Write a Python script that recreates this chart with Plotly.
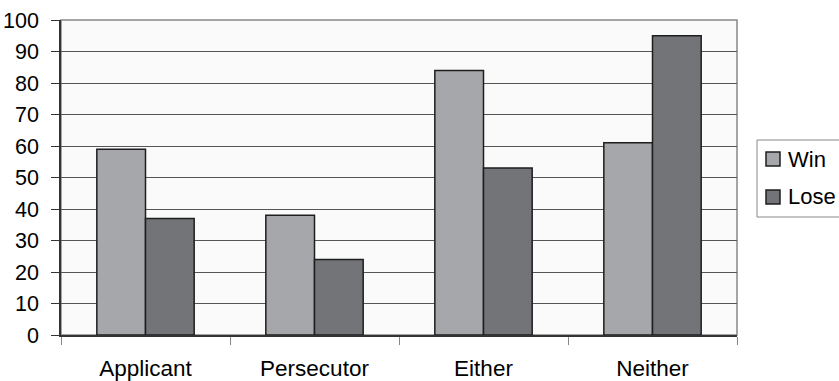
import plotly.graph_objects as go

categories = ["Applicant", "Persecutor", "Either", "Neither"]
win_values = [59, 38, 84, 61]
lose_values = [37, 24, 53, 95]
y_ticks = [0, 10, 20, 30, 40, 50, 60, 70, 80, 90, 100]
series_names = ["Win", "Lose"]
series_colors = ["#a6a7aa", "#737478"]
edge_color = "#1e1e1e"

fig = go.Figure()
for name, vals, col in zip(series_names, [win_values, lose_values], series_colors):
    fig.add_trace(go.Bar(name=name, x=categories, y=vals, showlegend=False,
                         marker=dict(color=col, line=dict(color=edge_color, width=1.5))))

# Manual legend (box clipped at the right edge as in the reference)
shapes = [dict(type="rect", xref="paper", yref="paper", x0=0, x1=1, y0=0, y1=1,
               line=dict(color="#888888", width=1.5), layer="below"),
          dict(type="rect", xref="paper", yref="paper", x0=1.0296, x1=1.16,
               y0=0.3746, y1=0.619, line=dict(color="#888888", width=1),
               fillcolor="white")]
annotations = []
legend_rows = [(0.5365, 0.581, 0.5587), (0.4159, 0.4603, 0.4381)]
for (y0, y1, yc), name, col in zip(legend_rows, series_names, series_colors):
    shapes.append(dict(type="rect", xref="paper", yref="paper", x0=1.0429, x1=1.0636,
                       y0=y0, y1=y1, fillcolor=col, line=dict(color=edge_color, width=1.5)))
    annotations.append(dict(xref="paper", yref="paper", x=1.0725, y=yc, text=name,
                            showarrow=False, xanchor="left", yanchor="middle",
                            font=dict(size=22)))

fig.update_layout(
    width=839, height=381,
    margin=dict(l=61, r=102, t=20, b=46, autoexpand=False),
    paper_bgcolor="white",
    plot_bgcolor="#fafafa",
    barmode="group",
    bargap=0.424,
    bargroupgap=0,
    font=dict(family="Liberation Sans, Arial, sans-serif", size=22, color="black"),
    showlegend=False,
    xaxis=dict(showline=True, linecolor="#333333", linewidth=1.5,
               ticks="outside", tickson="boundaries", ticklen=8, tickcolor="#888888",
               showgrid=False, automargin=False, ticklabelstandoff=12,
               tickfont=dict(size=22.5)),
    yaxis=dict(range=[0, 100], tickvals=y_ticks, showline=True, linecolor="#333333",
               linewidth=1.5, ticks="outside", ticklen=8, tickcolor="#333333",
               showgrid=True, gridcolor="#555555", gridwidth=1, zeroline=False,
               automargin=False, ticklabelstandoff=8, tickfont=dict(size=21.5)),
    shapes=shapes,
    annotations=annotations,
)

fig.write_html("out.html", config={"displayModeBar": False},
               post_script="document.body.style.margin='0';document.body.style.overflow='hidden';")
